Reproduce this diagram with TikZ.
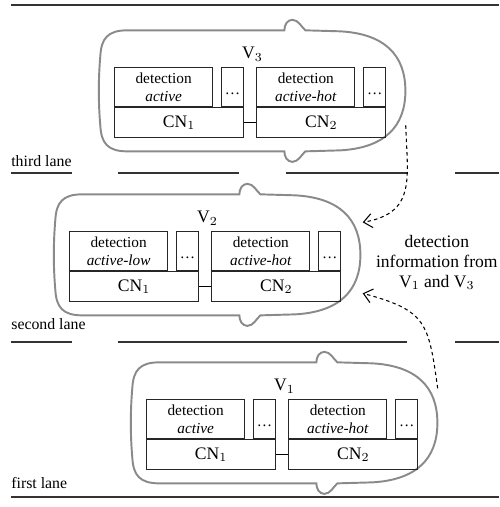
\documentclass[tikz,border=0pt]{standalone}
\usepackage{fontspec}
\setmainfont{Liberation Serif}
\usepackage{tikz}
\usetikzlibrary{arrows.meta,positioning}
\definecolor{carGray}{HTML}{8A8A8A}
\definecolor{laneGray}{HTML}{333333}
\tikzset{
  car/.style={minimum width=6.12cm, minimum height=2.42cm, inner sep=0pt},
  carline/.style={draw=carGray, line width=1.1pt},
  cell/.style={draw=black!85, line width=0.7pt, inner sep=0pt, align=center},
  detbox/.style={cell, minimum width=1.96cm, minimum height=0.78cm, font=\fontsize{8.7}{10}\selectfont},
  dotbox/.style={cell, minimum width=0.44cm, minimum height=0.78cm, font=\fontsize{8.7}{10}\selectfont, text height=1em, text depth=0.2em},
  cnbox/.style={cell, minimum width=2.58cm, minimum height=0.60cm, font=\fontsize{10}{12}\selectfont},
  vlabel/.style={inner sep=0pt, font=\fontsize{10}{12}\selectfont},
  lane/.style={draw=laneGray, line width=1.1pt},
  lanelabel/.style={inner sep=0pt, anchor=base west, font=\fontsize{9}{11}\selectfont},
  infoarrow/.style={line width=0.6pt, dash pattern=on 2pt off 1.8pt, -{Straight Barb[length=1.7mm, width=2.8mm]}},
  infotext/.style={inner sep=0pt, align=center, font=\fontsize{10}{11.4}\selectfont},
}

% body outline of a car seen from above, around node #1 (units of 0.02cm)
\newcommand{\carbody}[1]{%
  \draw[carline, shift={(#1.center)}, x=0.02cm, y=0.02cm]
    (-125,60.5) -- (32,60.5) .. controls (32,66) and (35,71) .. (40,71)
    .. controls (46,71) and (49,64) .. (53,60.5) -- (88,59.5)
    .. controls (132,57) and (153,36) .. (153,0)
    .. controls (153,-36) and (132,-57) .. (88,-59.5) -- (53,-60.5)
    .. controls (49,-64) and (46,-71) .. (40,-71)
    .. controls (35,-71) and (32,-66) .. (32,-60.5) -- (-125,-60.5)
    .. controls (-145,-60.5) and (-151,-52) .. (-152,-35)
    .. controls (-154,-12) and (-154,12) .. (-152,35)
    .. controls (-151,52) and (-145,60.5) .. (-125,60.5) -- cycle;
}

% #1 name, #2 north west corner, #3 index, #4/#5 detection states
\newcommand{\vehicle}[5]{%
  \node[car, anchor=north west] (#1) at (#2) {};
  \carbody{#1}
  \node[vlabel, below=0.34cm of #1.north] (#1lbl) {V$_{#3}$};
  \node[detbox, below right=0.74cm and 0.30cm of #1.north west] (#1det1) {detection\\\textit{#4}};
  \node[cnbox, below right=0pt and 0pt of #1det1.south west] (#1cn1) {CN$_1$};
  \node[dotbox, above left=0pt and 0pt of #1cn1.north east] (#1dots1) {\dots};
  \node[cnbox, right=0.24cm of #1cn1] (#1cn2) {CN$_2$};
  \node[detbox, above right=0pt and 0pt of #1cn2.north west] (#1det2) {detection\\\textit{#5}};
  \node[dotbox, above left=0pt and 0pt of #1cn2.north east] (#1dots2) {\dots};
  \draw[line width=0.7pt] (#1cn1) -- (#1cn2);
}

\begin{document}
\begin{tikzpicture}
\useasboundingbox (0,0) rectangle (9.98,10.14);

% road edges and lane markings
\draw[lane] (0.22,10.04) -- (9.98,10.04);
\draw[lane] (0.22,0.20) -- (9.98,0.20);
\draw[lane] (0.22,6.68) -- (1.44,6.68) (2.36,6.68) -- (4.78,6.68)
  (5.72,6.68) -- (8.16,6.68) (9.10,6.68) -- (9.98,6.68);
\draw[lane] (0.22,3.30) -- (1.44,3.30) (2.36,3.30) -- (8.14,3.30)
  (9.10,3.30) -- (9.98,3.30);

\node[lanelabel] (lane3) at (0.22,6.80) {third lane};
\node[lanelabel] (lane2) at (0.22,3.54) {second lane};
\node[lanelabel] (lane1) at (0.22,0.36) {first lane};

\vehicle{v3}{1.98,9.54}{3}{active}{active-hot}
\vehicle{v2}{1.08,6.26}{2}{active-low}{active-hot}
\vehicle{v1}{2.62,2.90}{1}{active}{active-hot}

\node[infotext, right=0.30cm of v2, yshift=-0.15cm] (info) {detection\\information from\\V$_1$ and V$_3$};

\coordinate (v3tail) at ([yshift=-0.69cm]v3.east);
\coordinate (v1tail) at ([yshift=0.69cm]v1.east);
\coordinate (v2up) at ([shift={(0.04,0.65)}]v2.east);
\coordinate (v2down) at ([shift={(0.04,-0.77)}]v2.east);
\draw[infoarrow] (v3tail) to[out=-88, in=10, looseness=1.3] (v2up);
\draw[infoarrow] (v1tail) to[out=98, in=-15, looseness=1.4] (v2down);
\end{tikzpicture}
\end{document}
